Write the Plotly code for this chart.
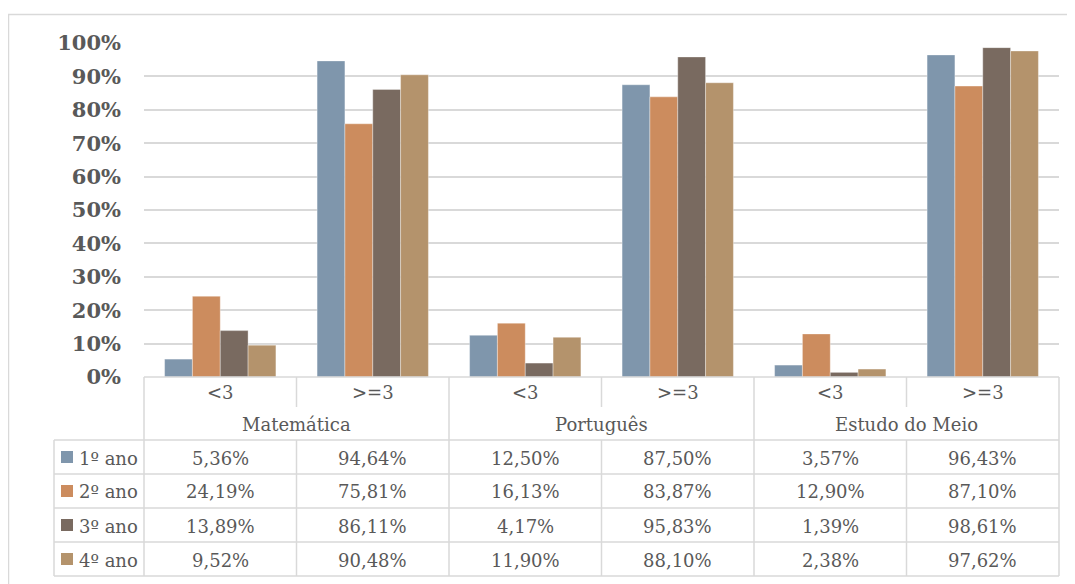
import plotly.graph_objects as go

# ---- data ----
subjects = ["Matemática", "Português", "Estudo do Meio"]
grade_cats = ["<3", ">=3", "<3", ">=3", "<3", ">=3"]
series_names = ["1º ano", "2º ano", "3º ano", "4º ano"]
ano1 = [5.36, 94.64, 12.50, 87.50, 3.57, 96.43]
ano2 = [24.19, 75.81, 16.13, 83.87, 12.90, 87.10]
ano3 = [13.89, 86.11, 4.17, 95.83, 1.39, 98.61]
ano4 = [9.52, 90.48, 11.90, 88.10, 2.38, 97.62]
yticks = [0, 10, 20, 30, 40, 50, 60, 70, 80, 90, 100]

series = [ano1, ano2, ano3, ano4]
colors = ["#7F96AC", "#CC8C5E", "#796A60", "#B4936C"]

VW, VH = 1075, 584          # viewport
OFF = 8                     # page body margin
W, H = VW - OFF, VH - OFF   # figure size
L, R, T, B = 144, 1059, 43, 377  # plot area, viewport pixels
PW, PH = R - L, B - T

def px(x):
    return (x - L) / PW

def py(y):
    return (B - y) / PH

FONT = "DejaVu Serif"
TXT = "#595959"
LINE = "#D9D9D9"

fig = go.Figure()
xs = list(range(len(grade_cats)))
for name, vals, c in zip(series_names, series, colors):
    fig.add_trace(go.Bar(
        x=xs, y=[v / 100 for v in vals], name=name,
        marker=dict(color=c, line=dict(color="rgba(255,255,255,0.45)", width=0.8)),
        showlegend=False,
    ))

shapes = []
annotations = []

def hline(y, x0, x1):
    shapes.append(dict(type="line", xref="paper", yref="paper",
                       x0=px(x0), x1=px(x1), y0=py(y), y1=py(y),
                       line=dict(color=LINE, width=1.5), layer="above"))

def vline(x, y0, y1):
    shapes.append(dict(type="line", xref="paper", yref="paper",
                       x0=px(x), x1=px(x), y0=py(y0), y1=py(y1),
                       line=dict(color=LINE, width=1.5), layer="above"))

cw = PW / len(grade_cats)
bounds = [L + i * cw for i in range(len(grade_cats) + 1)]
row_top = 440
row_h = 34
rows_y = [row_top + i * row_h for i in range(len(series) + 1)]
tick_row_bottom = 407

# table grid
hline(B, L, R)
for yy in rows_y:
    hline(yy, 54, R)
for i, bx in enumerate(bounds):
    if i % 2 == 0:
        vline(bx, B, rows_y[-1])
    else:
        vline(bx, B, tick_row_bottom)
        vline(bx, row_top, rows_y[-1])
vline(54, row_top, rows_y[-1])

# outer chart border
shapes.append(dict(type="rect", xref="paper", yref="paper",
                   x0=px(8.5), x1=px(VW + 10), y0=py(14.5), y1=py(VH + 10),
                   line=dict(color=LINE, width=1.5), fillcolor="rgba(0,0,0,0)",
                   layer="below"))

# category labels
for i, cat in enumerate(grade_cats):
    cx = (bounds[i] + bounds[i + 1]) / 2
    annotations.append(dict(xref="paper", yref="paper", x=px(cx), y=py(392),
                            text=cat, showarrow=False, xanchor="center", yanchor="middle",
                            font=dict(family=FONT, size=18, color=TXT)))
for j, s in enumerate(subjects):
    cx = bounds[2 * j + 1]
    annotations.append(dict(xref="paper", yref="paper", x=px(cx), y=py(424),
                            text=s, showarrow=False, xanchor="center", yanchor="middle",
                            font=dict(family=FONT, size=18, color=TXT)))

# data table rows
for r, (name, vals, c) in enumerate(zip(series_names, series, colors)):
    cy = rows_y[r] + row_h / 2
    shapes.append(dict(type="rect", xref="paper", yref="paper",
                       x0=px(61), x1=px(73), y0=py(cy - 6), y1=py(cy + 6),
                       fillcolor=c, line=dict(width=0), layer="above"))
    annotations.append(dict(xref="paper", yref="paper", x=px(77), y=py(cy + 1),
                            text=name, showarrow=False, xanchor="left", yanchor="middle",
                            font=dict(family=FONT, size=18, color=TXT)))
    for i, v in enumerate(vals):
        cx = (bounds[i] + bounds[i + 1]) / 2
        label = f"{v:.2f}".replace(".", ",") + "%"
        annotations.append(dict(xref="paper", yref="paper", x=px(cx), y=py(cy + 1),
                                text=label, showarrow=False, xanchor="center", yanchor="middle",
                                font=dict(family=FONT, size=18, color=TXT)))

fig.update_layout(
    width=W, height=H,
    margin=dict(l=L - OFF, r=VW - R, t=T - OFF, b=VH - B, pad=0),
    paper_bgcolor="white", plot_bgcolor="white",
    barmode="group", bargap=0.27, bargroupgap=0,
    shapes=shapes, annotations=annotations,
    xaxis=dict(range=[-0.5, len(grade_cats) - 0.5], showticklabels=False,
               showgrid=False, zeroline=False, showline=False, ticks=""),
    yaxis=dict(range=[0, 1], tickvals=[t / 100 for t in yticks],
               ticktext=[f"{t}%" for t in yticks],
               showgrid=True, gridcolor=LINE, gridwidth=1.5,
               zeroline=False, showline=False, ticks="",
               ticklabelstandoff=22,
               tickfont=dict(family=FONT, size=21, color=TXT, weight="bold")),
)

fig.write_html("out.html")
